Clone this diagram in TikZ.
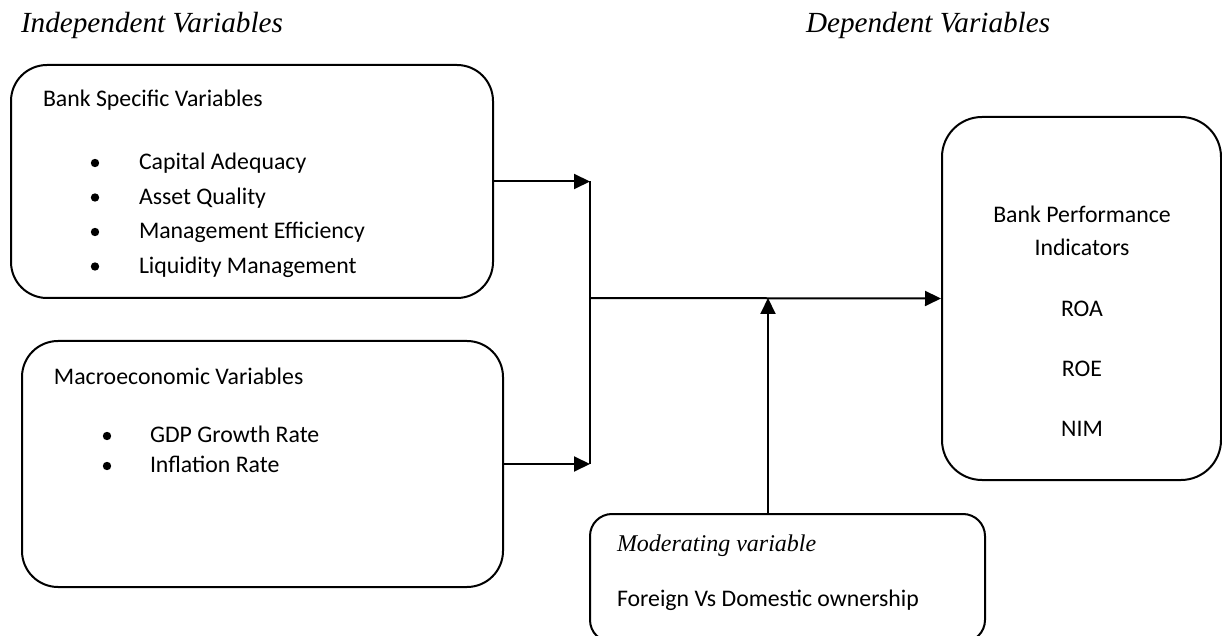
\documentclass[tikz,border=0pt]{standalone}
\usepackage{fontspec}
\setmainfont{Carlito}
\newfontfamily\headfont{Liberation Serif}
\usepackage{tikz}
\usetikzlibrary{arrows.meta, calc}

\begin{document}
\begin{tikzpicture}[x=0.5pt, y=-0.5pt, line width=1pt,
    box/.style={draw, rounded corners=#1, inner sep=0pt},
    txt/.style={anchor=base west, inner sep=0pt, font=\fontsize{11.9}{14}\selectfont},
    ctxt/.style={anchor=base, inner sep=0pt, font=\fontsize{11.9}{14}\selectfont},
    head/.style={anchor=base west, inner sep=0pt, font=\headfont\itshape\fontsize{14.6}{17}\selectfont},
    dot/.style={circle, fill, inner sep=0pt, minimum size=4.2pt},
    arr/.style={-{Triangle[length=8pt, width=7.5pt]}}]
  \useasboundingbox (0, 0) rectangle (1222, 636);

  \node[head] (ind) at (20, 33) {Independent Variables};
  \node[head] (dep) at (805, 33) {Dependent Variables};

  % boxes
  \node[box=18pt, minimum width=241pt, minimum height=116.5pt] (bank) at (252, 181.5) {};
  \node[box=18pt, minimum width=240.5pt, minimum height=123pt] (macro) at (262.5, 464) {};
  \node[box=20pt, minimum width=139.5pt, minimum height=181.5pt] (perf) at (1081.5, 298.5) {};
  \node[box=11pt, minimum width=197.5pt, minimum height=64pt] (moder) at (787.5, 578) {};

  \node[txt] (banktitle) at (42, 107) {Bank Specific Variables};
  \foreach \t [count=\i] in {Capital Adequacy, Asset Quality, Management Efficiency, Liquidity Management} {
    \node[dot] (bankdot\i) at (95, 163 + 34.5*\i - 34.5) {};
    \node[txt] (bankitem\i) at (138, 170 + 34.5*\i - 34.5) {\t};
  }

  \node[txt] (macrotitle) at (53, 385) {Macroeconomic Variables};
  \foreach \t [count=\i] in {GDP Growth Rate, Inflation Rate} {
    \node[dot] (macrodot\i) at (107, 436 + 30*\i - 30) {};
    \node[txt] (macroitem\i) at (149, 443 + 30*\i - 30) {\t};
  }

  \node[ctxt] (perftitle) at (1082, 223) {Bank Performance};
  \node[ctxt] (perftitleb) at (1082, 256) {Indicators};
  \node[ctxt] (roa) at (1082, 317) {ROA};
  \node[ctxt] (roe) at (1082, 377) {ROE};
  \node[ctxt] (nim) at (1082, 437) {NIM};

  \node[head, font=\headfont\itshape\fontsize{12}{14}\selectfont] (modertitle) at (616, 551) {Moderating variable};
  \node[txt] (moderitem) at (616, 606) {Foreign Vs Domestic ownership};

  % connectors
  \coordinate (join) at (590, 298);
  \coordinate (meet) at (768, 298);
  \draw[arr] (bank.east) -- (bank.east -| join);
  \draw[arr] (macro.east) -- (macro.east -| join);
  \draw (bank.east -| join) -- (macro.east -| join);
  \draw[arr] (join) -- (perf.west);
  \draw[arr] (moder.north -| meet) -- (meet);
\end{tikzpicture}
\end{document}
